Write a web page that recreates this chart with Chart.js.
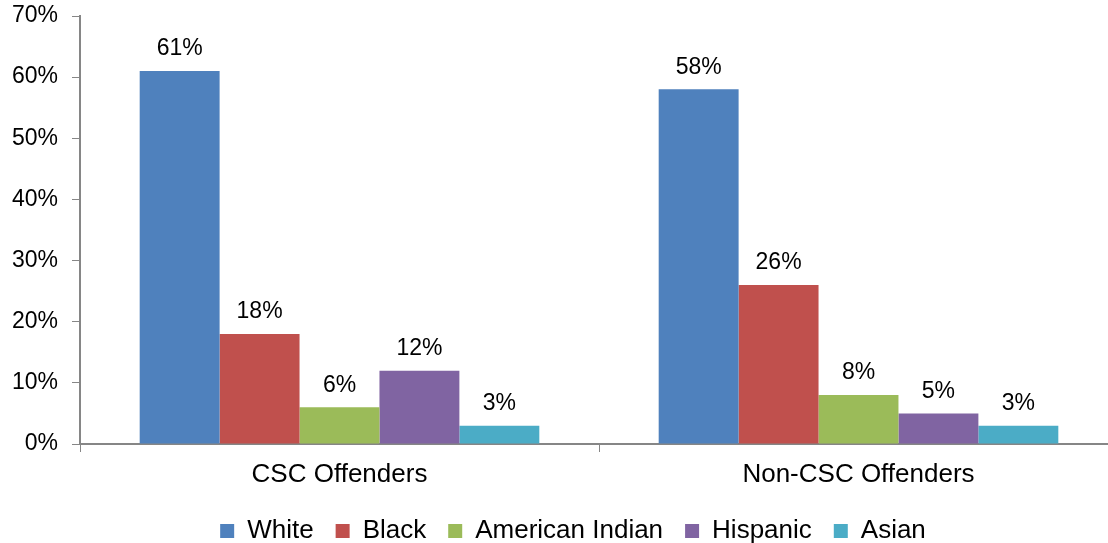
<!DOCTYPE html>
<html>
<head>
<meta charset="utf-8">
<script src="https://cdn.jsdelivr.net/npm/chart.js@4.4.1/dist/chart.umd.min.js"></script>
<style>
  html, body { margin: 0; padding: 0; background: #fff; overflow: hidden; }
  #wrap { position: absolute; left: 0; top: 0; width: 1118px; height: 543px; }
</style>
</head>
<body>
<div id="wrap"><canvas id="myChart" width="1118" height="543"></canvas></div>
<script>
// chart data
const categories = ['CSC Offenders', 'Non-CSC Offenders'];
const groups = ['White', 'Black', 'American Indian', 'Hispanic', 'Asian'];
const white = [61, 58];
const black = [18, 26];
const americanIndian = [6, 8];
const hispanic = [12, 5];
const asian = [3, 3];
const yTicks = [0, 10, 20, 30, 40, 50, 60, 70];

const colors = ['#4F81BD', '#C0504D', '#9BBB59', '#8064A2', '#4BACC6'];
const seriesValues = [white, black, americanIndian, hispanic, asian];

const fontFamily = '"Liberation Sans", Arial, sans-serif';
const axisColor = '#868686';

// draws the % value above each bar
const valueLabels = {
    id: 'valueLabels',
    afterDatasetsDraw(chart) {
        const ctx = chart.ctx;
        ctx.save();
        ctx.font = '23px ' + fontFamily;
        ctx.fillStyle = '#000';
        ctx.textAlign = 'center';
        ctx.textBaseline = 'middle';
        chart.data.datasets.forEach((ds, i) => {
            chart.getDatasetMeta(i).data.forEach((bar, j) => {
                ctx.fillText(ds.data[j] + '%', bar.x, bar.y - 22);
            });
        });
        ctx.restore();
    }
};

// the legend in the original sits a bit right of the canvas centre
const legendShift = {
    id: 'legendShift',
    afterLayout(chart) {
        if (chart.legend) {
            chart.legend.left += 14;
            chart.legend.right += 14;
        }
    }
};

const ctx = document.getElementById('myChart').getContext('2d');
const chart = new Chart(ctx, {
    type: 'bar',
    data: {
        labels: categories,
        datasets: groups.map((g, i) => ({
            label: g,
            data: seriesValues[i],
            backgroundColor: colors[i],
            borderWidth: 0
        }))
    },
    options: {
        responsive: false,
        animation: false,
        layout: { padding: { top: 16, right: 0, left: 0, bottom: -11 } },
        datasets: {
            bar: { categoryPercentage: 0.77, barPercentage: 1.0 }
        },
        scales: {
            x: {
                grid: { drawOnChartArea: false, drawTicks: true, tickLength: 8, color: axisColor, offset: true },
                border: { color: axisColor, width: 2 },
                ticks: { color: '#000', font: { family: fontFamily, size: 26 }, padding: 7 },
                afterFit(scale) { scale.height = 52; }
            },
            y: {
                min: 0,
                max: 70,
                afterBuildTicks(scale) { scale.ticks = yTicks.map(v => ({ value: v })); },
                grid: { drawOnChartArea: false, drawTicks: true, tickLength: 8, color: axisColor },
                border: { color: axisColor, width: 2 },
                ticks: {
                    color: '#000',
                    font: { family: fontFamily, size: 23 },
                    padding: 14,
                    callback: v => v + '%'
                },
                afterFit(scale) {
                    scale.width = 80;
                    scale.paddingTop = 0;
                    scale.paddingBottom = 0;
                }
            }
        },
        plugins: {
            legend: {
                position: 'bottom',
                labels: {
                    boxWidth: 14,
                    boxHeight: 14,
                    padding: 22,
                    color: '#000',
                    font: { family: fontFamily, size: 26 }
                }
            },
            tooltip: { enabled: false }
        }
    },
    plugins: [valueLabels, legendShift]
});
</script>
</body>
</html>
